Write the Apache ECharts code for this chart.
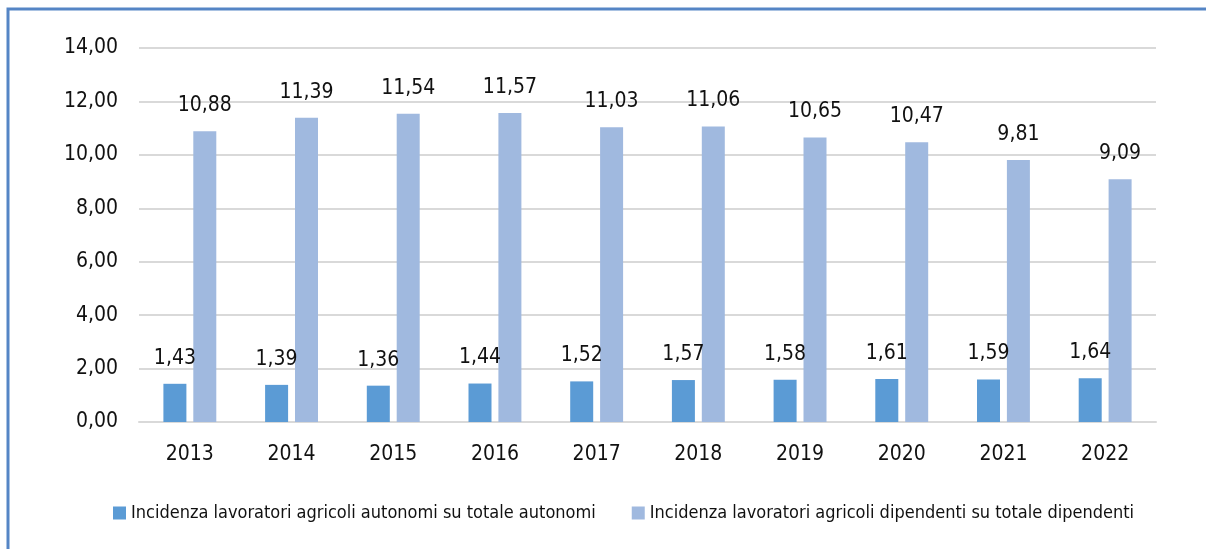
<!DOCTYPE html>
<html>
<head>
<meta charset="utf-8">
<script src="https://cdn.jsdelivr.net/npm/echarts@6/dist/echarts.min.js"></script>
<style>
  html, body { margin: 0; padding: 0; background: #fff; }
  #chart1 { width: 1206px; height: 549px; }
</style>
</head>
<body>
<div id="chart1"></div>
<script>
var anni = ['2013', '2014', '2015', '2016', '2017', '2018', '2019', '2020', '2021', '2022'];
var autonomi = [1.43, 1.39, 1.36, 1.44, 1.52, 1.57, 1.58, 1.61, 1.59, 1.64];
var dipendenti = [10.88, 11.39, 11.54, 11.57, 11.03, 11.06, 10.65, 10.47, 9.81, 9.09];
var nomi = [
    'Incidenza lavoratori agricoli autonomi su totale autonomi',
    'Incidenza lavoratori agricoli dipendenti su totale dipendenti'
];

var font = '"DejaVu Sans Condensed", "Liberation Sans Narrow", sans-serif';
var virgola = function (v, d) { return v.toFixed(d).replace('.', ','); };

var etichetta = {
    show: true,
    position: 'top',
    distance: 15,
    color: '#111',
    fontSize: 21,
    fontFamily: font,
    formatter: function (p) { return virgola(p.value, 2); }
};

var option = {
    animation: false,
    grid: { left: 139, right: 50, top: 48, bottom: 127 },
    graphic: [{
        type: 'rect',
        shape: { x: 8, y: 9, width: 1300, height: 700 },
        style: { fill: 'none', stroke: '#5585C5', lineWidth: 3 },
        silent: true
    }],
    legend: {
        left: 108,
        top: 499,
        itemWidth: 13,
        itemHeight: 13,
        itemGap: 36,
        icon: 'rect',
        textStyle: { fontSize: 18, fontFamily: font, color: '#111' },
        data: nomi
    },
    xAxis: {
        type: 'category',
        data: anni,
        axisLine: { lineStyle: { color: '#d9d9d9', width: 2 } },
        axisTick: { show: false },
        axisLabel: { color: '#111', fontSize: 21, fontFamily: font, margin: 22 }
    },
    yAxis: {
        type: 'value',
        min: 0,
        max: 14,
        interval: 2,
        axisLine: { show: false },
        axisTick: { show: false },
        splitLine: { lineStyle: { color: '#d9d9d9', width: 2 } },
        axisLabel: {
            color: '#111', fontSize: 21, fontFamily: font, margin: 21,
            formatter: function (v) { return virgola(v, 2); }
        }
    },
    series: [{
        name: nomi[0],
        type: 'bar',
        data: autonomi,
        barWidth: 23,
        barGap: '30%',
        itemStyle: { color: '#5B9BD5' },
        label: etichetta
    }, {
        name: nomi[1],
        type: 'bar',
        data: dipendenti,
        barWidth: 23,
        barGap: '30%',
        itemStyle: { color: '#A0B9DF' },
        label: etichetta
    }]
};

var myChart = echarts.init(document.getElementById('chart1'));
myChart.setOption(option);
</script>
</body>
</html>
